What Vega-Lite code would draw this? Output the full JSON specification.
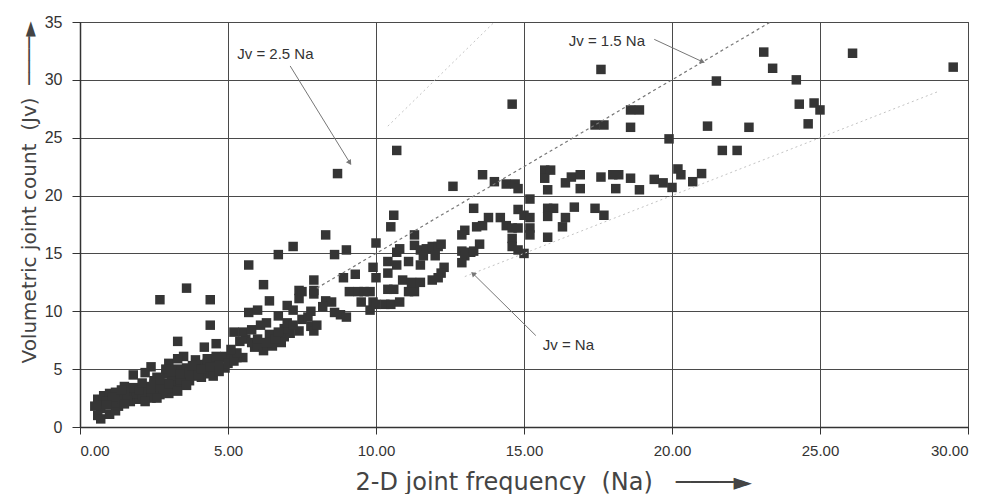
{
  "$schema": "https://vega.github.io/schema/vega-lite/v6.json",
  "autosize": {"type": "none"},
  "width": 888,
  "height": 405,
  "padding": {"left": 80, "top": 22, "right": 22, "bottom": 67},
  "background": "white",
  "config": {
    "view": {"stroke": "#333", "strokeWidth": 1},
    "axis": {"labelFont": "Liberation Sans", "labelFontSize": 15, "labelColor": "#333", "titleFont": "DejaVu Sans", "titleFontWeight": "normal", "titleColor": "#444", "gridColor": "#4a4a4a", "gridWidth": 1, "gridOpacity": 1, "tickColor": "#333", "domainColor": "#333", "domainWidth": 1.5}
  },
  "datasets": {
    "pts": [
      {"Na":0.5,"Jv":1.8},{"Na":0.7,"Jv":1.6},{"Na":0.6,"Jv":1.0},{"Na":0.7,"Jv":0.7},{"Na":1.0,"Jv":1.1},{"Na":1.2,"Jv":1.4},{"Na":1.3,"Jv":1.8},{"Na":0.6,"Jv":2.4},{"Na":0.8,"Jv":2.7},{"Na":1.0,"Jv":2.9},{"Na":1.2,"Jv":3.0},{"Na":1.0,"Jv":2.1},{"Na":1.3,"Jv":2.1},{"Na":1.7,"Jv":2.2},{"Na":2.0,"Jv":2.4},{"Na":2.4,"Jv":2.5},{"Na":2.7,"Jv":2.8},{"Na":3.0,"Jv":2.9},{"Na":1.6,"Jv":2.7},{"Na":1.9,"Jv":2.9},{"Na":2.3,"Jv":3.0},{"Na":2.6,"Jv":3.1},{"Na":2.9,"Jv":3.3},{"Na":3.2,"Jv":3.4},{"Na":1.5,"Jv":3.5},{"Na":1.8,"Jv":3.4},{"Na":2.2,"Jv":3.5},{"Na":2.5,"Jv":3.7},{"Na":2.8,"Jv":3.8},{"Na":3.2,"Jv":4.0},{"Na":3.5,"Jv":4.3},{"Na":3.8,"Jv":4.4},{"Na":4.2,"Jv":4.7},{"Na":4.5,"Jv":5.0},{"Na":4.9,"Jv":5.1},{"Na":2.6,"Jv":4.3},{"Na":2.9,"Jv":4.6},{"Na":3.3,"Jv":5.0},{"Na":3.6,"Jv":5.1},{"Na":4.0,"Jv":5.4},{"Na":4.3,"Jv":5.5},{"Na":4.6,"Jv":5.7},{"Na":1.8,"Jv":4.5},{"Na":2.4,"Jv":5.2},{"Na":2.2,"Jv":4.7},{"Na":3.0,"Jv":5.5},{"Na":2.9,"Jv":5.0},{"Na":3.5,"Jv":6.1},{"Na":3.3,"Jv":5.9},{"Na":3.9,"Jv":5.8},{"Na":4.3,"Jv":5.9},{"Na":4.6,"Jv":6.1},{"Na":4.9,"Jv":6.1},{"Na":4.8,"Jv":6.0},{"Na":5.1,"Jv":6.0},{"Na":5.3,"Jv":6.0},{"Na":5.5,"Jv":6.0},
      {"Na":1.4,"Jv":2.5},{"Na":2.1,"Jv":2.7},{"Na":2.8,"Jv":3.1},{"Na":3.4,"Jv":3.7},{"Na":3.7,"Jv":4.0},{"Na":4.1,"Jv":4.3},{"Na":4.4,"Jv":4.6},{"Na":4.7,"Jv":5.3},{"Na":3.9,"Jv":4.9},{"Na":1.1,"Jv":2.4},{"Na":0.9,"Jv":2.2},{"Na":2.5,"Jv":4.0},{"Na":3.1,"Jv":4.4},
      {"Na":1.1,"Jv":2.6},{"Na":1.5,"Jv":3.0},{"Na":1.6,"Jv":2.3},{"Na":2.0,"Jv":3.2},{"Na":2.1,"Jv":3.8},{"Na":2.4,"Jv":3.3},{"Na":2.7,"Jv":3.5},{"Na":2.7,"Jv":4.1},{"Na":3.0,"Jv":3.7},{"Na":3.1,"Jv":4.8},{"Na":3.4,"Jv":4.1},{"Na":3.4,"Jv":4.6},{"Na":3.7,"Jv":4.7},{"Na":3.8,"Jv":5.3},{"Na":4.0,"Jv":4.5},{"Na":4.1,"Jv":5.0},{"Na":4.4,"Jv":5.2},{"Na":4.5,"Jv":4.4},{"Na":4.7,"Jv":4.8},{"Na":5.0,"Jv":5.5},{"Na":5.2,"Jv":5.7},{"Na":5.3,"Jv":6.4},{"Na":1.4,"Jv":3.2},{"Na":0.9,"Jv":1.9},{"Na":1.5,"Jv":2.0},{"Na":2.2,"Jv":2.2},{"Na":2.6,"Jv":2.5},{"Na":3.3,"Jv":3.1},{"Na":3.6,"Jv":3.6},
      {"Na":5.9,"Jv":6.9},{"Na":6.2,"Jv":6.6},{"Na":6.5,"Jv":7.0},{"Na":6.9,"Jv":7.8},{"Na":7.1,"Jv":8.1},{"Na":6.4,"Jv":8.0},{"Na":7.5,"Jv":9.3},{"Na":7.7,"Jv":9.5},{"Na":6.9,"Jv":8.5},
      {"Na":3.3,"Jv":7.4},{"Na":4.2,"Jv":6.9},{"Na":4.6,"Jv":7.2},{"Na":5.1,"Jv":6.7},{"Na":5.4,"Jv":7.4},{"Na":5.6,"Jv":7.6},{"Na":5.8,"Jv":7.3},{"Na":6.0,"Jv":7.1},{"Na":6.0,"Jv":7.6},{"Na":6.3,"Jv":7.3},{"Na":6.8,"Jv":7.3},{"Na":6.6,"Jv":7.6},{"Na":5.5,"Jv":8.2},{"Na":5.8,"Jv":8.4},{"Na":6.1,"Jv":8.8},{"Na":6.3,"Jv":9.0},{"Na":6.7,"Jv":8.2},{"Na":5.2,"Jv":8.2},{"Na":4.4,"Jv":8.8},{"Na":7.4,"Jv":8.3},{"Na":7.8,"Jv":8.7},{"Na":7.9,"Jv":8.3},{"Na":8.0,"Jv":8.8},{"Na":7.0,"Jv":9.0},{"Na":7.2,"Jv":8.8},{"Na":6.7,"Jv":9.6},{"Na":5.7,"Jv":9.9},{"Na":6.0,"Jv":10.1},{"Na":7.0,"Jv":10.5},{"Na":7.2,"Jv":10.1},{"Na":6.4,"Jv":10.9},{"Na":7.8,"Jv":10.0},{"Na":8.3,"Jv":10.9},{"Na":8.5,"Jv":10.8},{"Na":8.2,"Jv":10.4},{"Na":8.6,"Jv":9.9},{"Na":8.8,"Jv":9.7},{"Na":9.0,"Jv":9.5},{"Na":9.8,"Jv":10.1},{"Na":9.5,"Jv":10.8},{"Na":9.9,"Jv":10.8},{"Na":10.0,"Jv":10.6},{"Na":10.3,"Jv":10.6},{"Na":10.5,"Jv":10.6},{"Na":10.8,"Jv":10.8},
      {"Na":7.4,"Jv":11.8},{"Na":7.4,"Jv":11.1},{"Na":7.5,"Jv":11.7},{"Na":7.9,"Jv":11.5},{"Na":7.9,"Jv":11.8},{"Na":9.1,"Jv":11.7},{"Na":9.4,"Jv":11.7},{"Na":9.6,"Jv":11.7},{"Na":9.8,"Jv":11.7},{"Na":10.4,"Jv":11.9},{"Na":10.6,"Jv":11.9},{"Na":11.1,"Jv":11.7},{"Na":11.3,"Jv":11.7},{"Na":10.9,"Jv":12.7},{"Na":11.2,"Jv":12.5},{"Na":11.5,"Jv":12.5},{"Na":10.4,"Jv":13.3},{"Na":7.9,"Jv":12.7},{"Na":8.9,"Jv":12.9},{"Na":9.3,"Jv":13.2},{"Na":10.0,"Jv":12.9},{"Na":6.2,"Jv":12.3},{"Na":2.7,"Jv":11.0},{"Na":3.6,"Jv":12.0},{"Na":4.4,"Jv":11.0},{"Na":5.7,"Jv":14.0},{"Na":6.7,"Jv":14.9},{"Na":7.2,"Jv":15.6},{"Na":8.3,"Jv":16.6},{"Na":8.6,"Jv":14.9},{"Na":9.0,"Jv":15.3},{"Na":10.0,"Jv":15.9},{"Na":9.9,"Jv":13.8},{"Na":10.4,"Jv":14.3},{"Na":10.7,"Jv":14.0},{"Na":11.1,"Jv":14.3},{"Na":11.5,"Jv":14.0},{"Na":10.7,"Jv":15.1},{"Na":10.8,"Jv":15.4},{"Na":11.3,"Jv":16.6},{"Na":11.3,"Jv":15.7},{"Na":11.5,"Jv":15.3},{"Na":11.7,"Jv":15.4},{"Na":11.9,"Jv":15.6},{"Na":12.1,"Jv":15.6},{"Na":12.2,"Jv":15.8},{"Na":11.6,"Jv":14.8},{"Na":12.0,"Jv":14.8},{"Na":12.3,"Jv":13.8},{"Na":12.2,"Jv":13.3},{"Na":12.1,"Jv":12.9},{"Na":11.9,"Jv":12.7},
      {"Na":10.6,"Jv":18.3},{"Na":10.5,"Jv":17.3},{"Na":8.7,"Jv":21.9},{"Na":10.7,"Jv":23.9},{"Na":12.6,"Jv":20.8},{"Na":13.6,"Jv":21.8},{"Na":13.3,"Jv":18.9},{"Na":13.8,"Jv":18.1},{"Na":14.2,"Jv":18.1},{"Na":13.4,"Jv":17.3},{"Na":13.6,"Jv":17.4},{"Na":13.0,"Jv":17.0},{"Na":12.9,"Jv":16.6},{"Na":12.9,"Jv":15.2},{"Na":13.0,"Jv":14.8},{"Na":13.2,"Jv":15.1},{"Na":13.3,"Jv":15.2},{"Na":13.5,"Jv":15.8},{"Na":12.9,"Jv":14.2},
      {"Na":14.0,"Jv":21.2},{"Na":14.4,"Jv":21.0},{"Na":14.7,"Jv":21.0},{"Na":14.8,"Jv":20.6},{"Na":15.2,"Jv":19.7},{"Na":14.8,"Jv":18.8},{"Na":15.0,"Jv":18.3},{"Na":15.2,"Jv":18.1},{"Na":14.4,"Jv":17.4},{"Na":14.6,"Jv":17.2},{"Na":14.8,"Jv":17.2},{"Na":15.2,"Jv":17.2},{"Na":15.2,"Jv":16.6},{"Na":14.6,"Jv":16.3},{"Na":14.6,"Jv":15.6},{"Na":14.8,"Jv":15.3},{"Na":15.0,"Jv":15.0},
      {"Na":15.7,"Jv":22.2},{"Na":15.9,"Jv":22.2},{"Na":15.7,"Jv":21.5},{"Na":15.8,"Jv":20.5},{"Na":16.4,"Jv":21.1},{"Na":16.6,"Jv":21.6},{"Na":16.9,"Jv":21.8},{"Na":16.9,"Jv":20.6},{"Na":17.6,"Jv":21.6},{"Na":18.0,"Jv":21.8},{"Na":18.2,"Jv":21.8},{"Na":18.1,"Jv":20.6},{"Na":18.6,"Jv":21.5},{"Na":18.9,"Jv":20.5},{"Na":19.4,"Jv":21.4},{"Na":19.7,"Jv":21.1},{"Na":20.0,"Jv":20.7},{"Na":20.2,"Jv":22.3},{"Na":20.3,"Jv":21.8},{"Na":20.7,"Jv":21.2},{"Na":21.0,"Jv":21.9},{"Na":15.8,"Jv":18.9},{"Na":16.0,"Jv":18.9},{"Na":15.8,"Jv":18.2},{"Na":16.7,"Jv":19.0},{"Na":16.4,"Jv":18.1},{"Na":17.4,"Jv":18.9},{"Na":17.7,"Jv":18.3},{"Na":16.3,"Jv":17.3},{"Na":15.8,"Jv":16.4},
      {"Na":14.6,"Jv":27.9},{"Na":17.4,"Jv":26.1},{"Na":17.7,"Jv":26.1},{"Na":17.6,"Jv":30.9},{"Na":18.6,"Jv":27.4},{"Na":18.9,"Jv":27.4},{"Na":18.6,"Jv":25.9},{"Na":19.9,"Jv":24.9},{"Na":21.2,"Jv":26.0},{"Na":21.5,"Jv":29.9},{"Na":21.7,"Jv":23.9},{"Na":22.2,"Jv":23.9},{"Na":22.6,"Jv":25.9},{"Na":23.1,"Jv":32.4},{"Na":23.4,"Jv":31.0},{"Na":24.2,"Jv":30.0},{"Na":24.3,"Jv":27.9},{"Na":24.8,"Jv":28.0},{"Na":25.0,"Jv":27.4},{"Na":24.6,"Jv":26.2},{"Na":26.1,"Jv":32.3},{"Na":29.5,"Jv":31.1}
    ],
    "refs": [
      {"line":"1.5","Na":8.0,"Jv":12.0},{"line":"1.5","Na":23.33,"Jv":35.0},
      {"line":"2.5","Na":10.4,"Jv":26.0},{"line":"2.5","Na":14.0,"Jv":35.0},
      {"line":"1","Na":13.0,"Jv":13.0},{"line":"1","Na":29.0,"Jv":29.0}
    ],
    "notes": [
      {"id":"a","text":"Jv = 2.5 Na","Na":6.6,"Jv":32.2,"Na0":7.1,"Jv0":31.2,"Na1":9.1,"Jv1":22.9},
      {"id":"b","text":"Jv = 1.5 Na","Na":17.8,"Jv":33.4,"Na0":19.4,"Jv0":33.5,"Na1":21.0,"Jv1":31.6},
      {"id":"c","text":"Jv = Na","Na":16.5,"Jv":7.1,"Na0":15.4,"Jv0":7.9,"Na1":13.3,"Jv1":13.2}
    ]
  },
  "layer": [
    {
      "data": {"name": "pts"},
      "mark": {"type": "square", "size": 90, "color": "#353535", "opacity": 1, "filled": true},
      "encoding": {
        "x": {"field": "Na", "type": "quantitative", "scale": {"domain": [0, 30], "nice": false},
          "axis": {"values": [0,5,10,15,20,25,30], "format": ".2f", "grid": true, "tickSize": 7, "labelPadding": 9,
            "title": "2-D joint frequency\u00a0\u00a0(Na)\u00a0\u00a0\u00a0────►", "titleFontSize": 24, "titleAlign": "left", "titleAnchor": "start", "titleX": 275, "titleY": 62, "titleBaseline": "alphabetic"}},
        "y": {"field": "Jv", "type": "quantitative", "scale": {"domain": [0, 35], "nice": false},
          "axis": {"values": [0,5,10,15,20,25,30,35], "format": "d", "grid": true, "tickSize": 8, "labelPadding": 10, "labelFontSize": 16,
            "title": "Volumetric joint count\u00a0\u00a0(Jv)\u00a0\u00a0────►", "titleFontSize": 20, "titleAngle": -90, "titleAlign": "left", "titleAnchor": "start", "titleX": -45, "titleY": 341, "titleBaseline": "alphabetic"}}
      }
    },
    {
      "data": {"name": "refs"},
      "transform": [{"filter": "datum.line == '1.5'"}],
      "mark": {"type": "line", "color": "#777", "strokeWidth": 1.2, "strokeDash": [3, 3]},
      "encoding": {"x": {"field": "Na", "type": "quantitative"}, "y": {"field": "Jv", "type": "quantitative"}}
    },
    {
      "data": {"name": "refs"},
      "transform": [{"filter": "datum.line != '1.5'"}],
      "mark": {"type": "line", "color": "#c4c4c4", "strokeWidth": 1, "strokeDash": [2, 3]},
      "encoding": {"x": {"field": "Na", "type": "quantitative"}, "y": {"field": "Jv", "type": "quantitative"}, "detail": {"field": "line"}}
    },
    {
      "data": {"name": "notes"},
      "mark": {"type": "rule", "color": "#777", "strokeWidth": 1},
      "encoding": {"x": {"field": "Na0", "type": "quantitative"}, "y": {"field": "Jv0", "type": "quantitative"}, "x2": {"field": "Na1"}, "y2": {"field": "Jv1"}}
    },
    {
      "data": {"name": "notes"},
      "transform": [{"filter": "datum.id == 'a'"}],
      "mark": {"type": "point", "shape": "triangle", "filled": true, "size": 35, "color": "#777", "opacity": 1, "angle": 147},
      "encoding": {"x": {"field": "Na1", "type": "quantitative"}, "y": {"field": "Jv1", "type": "quantitative"}}
    },
    {
      "data": {"name": "notes"},
      "transform": [{"filter": "datum.id == 'b'"}],
      "mark": {"type": "point", "shape": "triangle", "filled": true, "size": 35, "color": "#777", "opacity": 1, "angle": 113},
      "encoding": {"x": {"field": "Na1", "type": "quantitative"}, "y": {"field": "Jv1", "type": "quantitative"}}
    },
    {
      "data": {"name": "notes"},
      "transform": [{"filter": "datum.id == 'c'"}],
      "mark": {"type": "point", "shape": "triangle", "filled": true, "size": 35, "color": "#777", "opacity": 1, "angle": 314},
      "encoding": {"x": {"field": "Na1", "type": "quantitative"}, "y": {"field": "Jv1", "type": "quantitative"}}
    },
    {
      "data": {"name": "notes"},
      "mark": {"type": "text", "font": "Liberation Sans", "fontSize": 15, "color": "#333", "align": "center", "baseline": "middle"},
      "encoding": {"x": {"field": "Na", "type": "quantitative"}, "y": {"field": "Jv", "type": "quantitative"}, "text": {"field": "text"}}
    }
  ]
}
